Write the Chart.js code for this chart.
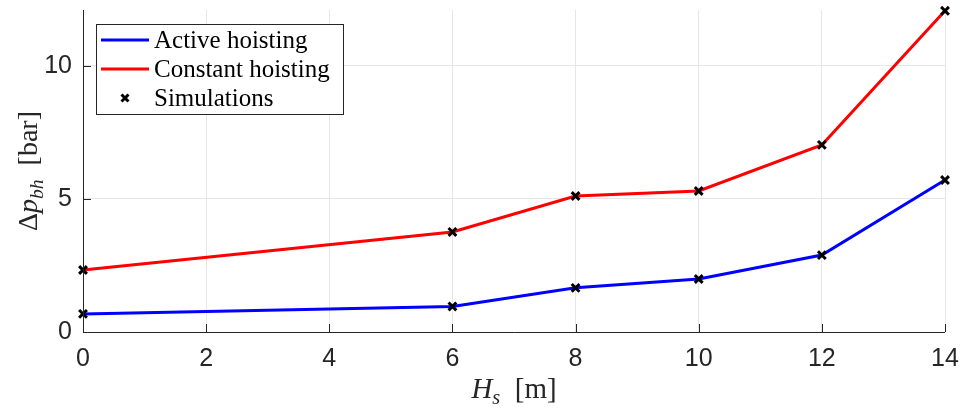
<!DOCTYPE html>
<html>
<head>
<meta charset="utf-8">
<script src="https://cdn.jsdelivr.net/npm/chart.js@4.4.1/dist/chart.umd.min.js"></script>
<style>
  html, body { margin: 0; padding: 0; background: #fff; }
  #wrap { width: 964px; height: 410px; }
</style>
</head>
<body>
<div id="wrap"><canvas id="c" width="964" height="410"></canvas></div>
<script>
// Significant wave height [m]
const waveHeights = [0, 6, 8, 10, 12, 14];
// Bottom-hole pressure variation [bar]
const activeHoisting = [0.68, 0.96, 1.66, 1.99, 2.89, 5.71];
const constantHoisting = [2.33, 3.76, 5.11, 5.30, 7.03, 12.07];
const seriesLabels = ['Active hoisting', 'Constant hoisting', 'Simulations'];
const xTickValues = [0, 2, 4, 6, 8, 10, 12, 14];
const yTickValues = [0, 5, 10];

const AXIS_COLOR = '#262626';
const GRID_COLOR = '#e6e6e6';
const TICK_FONT = '"Liberation Sans", Arial, sans-serif';
const MATH_FONT = '"Liberation Serif", "DejaVu Serif", serif';

const toPoints = (ys) => waveHeights.map((x, i) => ({ x: x, y: ys[i] }));

// Mixed-style text (italic symbols, subscripts) for the axis titles
function drawRich(ctx, parts, size) {
  const widths = parts.map(p => {
    ctx.font = (p.italic ? 'italic ' : '') + (p.sub ? size * 0.7 : size) + 'px ' + MATH_FONT;
    return ctx.measureText(p.t).width;
  });
  const total = widths.reduce((a, b) => a + b, 0);
  let x = -total / 2;
  parts.forEach((p, i) => {
    ctx.font = (p.italic ? 'italic ' : '') + (p.sub ? size * 0.7 : size) + 'px ' + MATH_FONT;
    ctx.fillText(p.t, x, p.sub ? size * 0.22 : 0);
    x += widths[i];
  });
}

const axesDecor = {
  id: 'axesDecor',
  afterDraw(chart) {
    const { ctx, chartArea: a, scales } = chart;
    ctx.save();
    // axis lines
    ctx.strokeStyle = AXIS_COLOR;
    ctx.lineWidth = 1;
    ctx.beginPath();
    ctx.moveTo(a.left + 0.5, a.top);
    ctx.lineTo(a.left + 0.5, a.bottom + 0.5);
    ctx.lineTo(a.right, a.bottom + 0.5);
    ctx.stroke();
    // inward ticks
    ctx.beginPath();
    xTickValues.forEach(v => {
      const px = Math.round(scales.x.getPixelForValue(v)) + 0.5;
      ctx.moveTo(px, a.bottom);
      ctx.lineTo(px, a.bottom - 8);
    });
    yTickValues.forEach(v => {
      const py = Math.round(scales.y.getPixelForValue(v)) + 0.5;
      ctx.moveTo(a.left, py);
      ctx.lineTo(a.left + 8, py);
    });
    ctx.stroke();

    // axis titles
    ctx.fillStyle = AXIS_COLOR;
    ctx.textBaseline = 'alphabetic';
    ctx.textAlign = 'left';
    ctx.save();
    ctx.translate((a.left + a.right) / 2, 398);
    drawRich(ctx, [
      { t: 'H', italic: true }, { t: 's', italic: true, sub: true }, { t: '  [m]' }
    ], 29);
    ctx.restore();
    ctx.save();
    ctx.translate(37, (a.top + a.bottom) / 2);
    ctx.rotate(-Math.PI / 2);
    drawRich(ctx, [
      { t: 'Δ' }, { t: 'p', italic: true }, { t: 'bh', italic: true, sub: true }, { t: '  [bar]' }
    ], 28);
    ctx.restore();

    // legend
    const bx = 96, by = 24, bw = 247, bh = 90;
    ctx.fillStyle = '#fff';
    ctx.fillRect(bx, by, bw, bh);
    ctx.strokeStyle = AXIS_COLOR;
    ctx.lineWidth = 1;
    ctx.strokeRect(bx + 0.5, by + 0.5, bw, bh);
    const rows = [40, 69, 98];
    chart.data.datasets.forEach((ds, i) => {
      const ry = rows[i];
      if (ds.showLine !== false) {
        ctx.strokeStyle = ds.borderColor;
        ctx.lineWidth = 3;
        ctx.beginPath();
        ctx.moveTo(101, ry);
        ctx.lineTo(149, ry);
        ctx.stroke();
      } else {
        ctx.strokeStyle = '#000';
        ctx.lineWidth = 3;
        const r = 3.5, cx = 125;
        ctx.beginPath();
        ctx.moveTo(cx - r, ry - r); ctx.lineTo(cx + r, ry + r);
        ctx.moveTo(cx - r, ry + r); ctx.lineTo(cx + r, ry - r);
        ctx.stroke();
      }
      ctx.fillStyle = '#000';
      ctx.font = '25px ' + MATH_FONT;
      ctx.textBaseline = 'middle';
      ctx.fillText(ds.label, 154, ry + 1);
    });
    ctx.restore();
  }
};

new Chart(document.getElementById('c'), {
  type: 'scatter',
  data: {
    datasets: [
      {
        label: seriesLabels[0],
        data: toPoints(activeHoisting),
        showLine: true,
        borderColor: '#0000ff',
        borderWidth: 3,
        pointRadius: 0,
        order: 2
      },
      {
        label: seriesLabels[1],
        data: toPoints(constantHoisting),
        showLine: true,
        borderColor: '#ff0000',
        borderWidth: 3,
        pointRadius: 0,
        order: 2
      },
      {
        label: seriesLabels[2],
        data: toPoints(activeHoisting).concat(toPoints(constantHoisting)),
        showLine: false,
        pointStyle: 'crossRot',
        pointRadius: 5.5,
        pointBorderWidth: 3,
        borderColor: '#000',
        backgroundColor: '#000',
        order: 1
      }
    ]
  },
  options: {
    responsive: false,
    animation: false,
    devicePixelRatio: 1,
    clip: false,
    layout: { autoPadding: false, padding: { top: 10, right: 19, left: 0, bottom: 0 } },
    plugins: { legend: { display: false }, tooltip: { enabled: false } },
    scales: {
      x: {
        type: 'linear',
        min: 0, max: 14,
        afterBuildTicks: (s) => { s.ticks = xTickValues.map(v => ({ value: v })); },
        afterFit: (s) => { s.height = 78; s.paddingLeft = 0; s.paddingRight = 0; },
        grid: { color: GRID_COLOR, lineWidth: 1, drawTicks: false },
        border: { display: false },
        ticks: {
          color: AXIS_COLOR,
          padding: 12,
          maxRotation: 0,
          font: { family: TICK_FONT, size: 25 },
          callback: (v) => String(v)
        }
      },
      y: {
        type: 'linear',
        min: 0, max: 12.1,
        afterBuildTicks: (s) => { s.ticks = yTickValues.map(v => ({ value: v })); },
        afterFit: (s) => { s.width = 83; s.paddingTop = 0; s.paddingBottom = 0; },
        grid: { color: GRID_COLOR, lineWidth: 1, drawTicks: false },
        border: { display: false },
        ticks: {
          color: AXIS_COLOR,
          padding: 11,
          font: { family: TICK_FONT, size: 25 },
          callback: (v) => String(v)
        }
      }
    }
  },
  plugins: [axesDecor]
});
</script>
</body>
</html>
